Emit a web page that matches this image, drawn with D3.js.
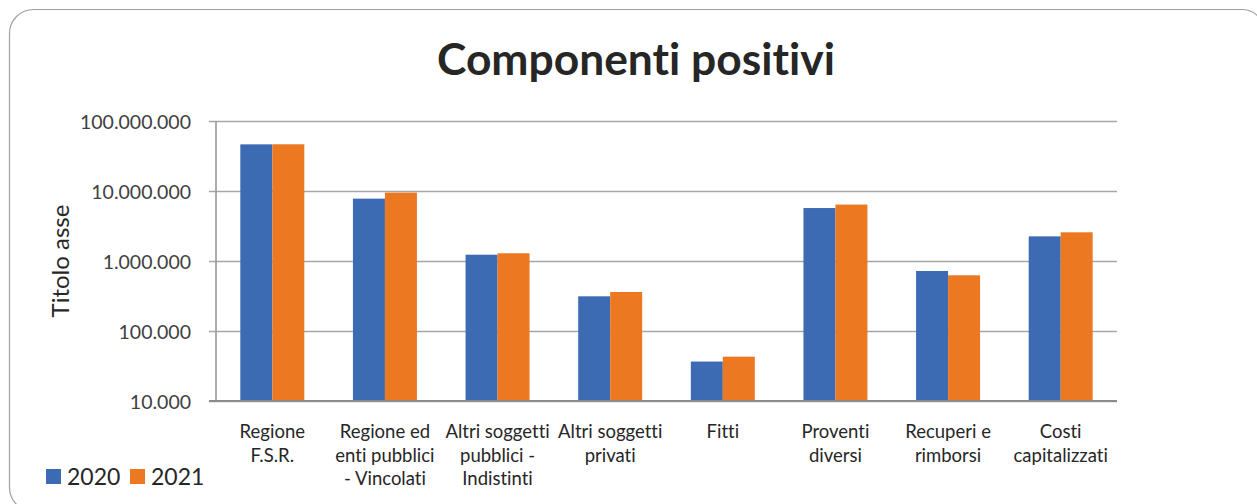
<!DOCTYPE html>
<html>
<head>
<meta charset="utf-8">
<script src="https://cdn.jsdelivr.net/npm/d3@7"></script>
<style>
  html, body { margin: 0; padding: 0; background: #ffffff; }
  svg { display: block; font-family: Lato, "Open Sans", sans-serif; }
  svg text { font-variant-ligatures: none; font-feature-settings: "liga" 0, "clig" 0; }
</style>
</head>
<body>
<svg id="chart" width="1257" height="504"></svg>
<script>
// Categories (line breaks mark how each label wraps under its group)
const categories = [
  "Regione\nF.S.R.",
  "Regione ed\nenti pubblici\n- Vincolati",
  "Altri soggetti\npubblici -\nIndistinti",
  "Altri soggetti\nprivati",
  "Fitti",
  "Proventi\ndiversi",
  "Recuperi e\nrimborsi",
  "Costi\ncapitalizzati"
];
const seriesNames = ["2020", "2021"];
const values2020 = [46400000, 7780000, 1230000, 313000, 36600, 5710000, 720000, 2250000];
const values2021 = [46500000, 9490000, 1290000, 361000, 43000, 6400000, 625000, 2570000];
const yTicks = [10000, 100000, 1000000, 10000000, 100000000];
const chartTitle = "Componenti positivi";
const axisTitle = "Titolo asse";

const colors = { "2020": "#3d6bb3", "2021": "#ec7922" };
const svg = d3.select("#chart");

// Outer frame (runs past the right edge of the page)
svg.append("rect")
  .attr("x", 9.5).attr("y", 9.5)
  .attr("width", 1256).attr("height", 502)
  .attr("rx", 24).attr("ry", 24)
  .attr("fill", "#ffffff")
  .attr("stroke", "#a0a0a0")
  .attr("stroke-width", 1.2);

const plot = { left: 216, right: 1117, top: 121, bottom: 401 };

const y = d3.scaleLog().domain([1e4, 1e8]).range([plot.bottom, plot.top]);
const x = d3.scaleBand().domain(categories).range([plot.left, plot.right]).paddingInner(0).paddingOuter(0);
const xs = d3.scaleBand().domain(seriesNames).range([0, x.bandwidth()]).paddingInner(0).paddingOuter(0.76);

const it = d3.formatLocale({ decimal: ",", thousands: ".", grouping: [3], currency: ["€", ""] });
const fmt = it.format(",d");

// Gridlines with outer tick marks
const yAxis = d3.axisLeft(y)
  .tickValues(yTicks)
  .tickFormat(fmt)
  .tickSizeInner(-(plot.right - plot.left))
  .tickSizeOuter(0)
  .tickPadding(25);
const gy = svg.append("g").attr("transform", `translate(${plot.left},0)`).call(yAxis);
gy.select(".domain").remove();
gy.selectAll(".tick line")
  .attr("x1", -7)
  .attr("stroke", "#a6a6a6")
  .attr("stroke-width", 1.4);
gy.selectAll(".tick text")
  .attr("font-size", 19.5)
  .attr("fill", "#404040")
  .attr("font-family", "Lato, sans-serif")
  .attr("dy", "0.36em");

// Bars
const data = categories.map((c, i) => ({ cat: c, vals: [
  { s: "2020", v: values2020[i] },
  { s: "2021", v: values2021[i] }
]}));

const groups = svg.append("g").selectAll("g")
  .data(data).join("g")
  .attr("transform", d => `translate(${x(d.cat)},0)`);

groups.selectAll("rect")
  .data(d => d.vals).join("rect")
  .attr("x", d => xs(d.s))
  .attr("width", xs.bandwidth())
  .attr("y", d => y(d.v))
  .attr("height", d => y(1e4) - y(d.v))
  .attr("fill", d => colors[d.s]);

// Left axis line
svg.append("line")
  .attr("x1", plot.left).attr("x2", plot.left)
  .attr("y1", plot.top).attr("y2", plot.bottom)
  .attr("stroke", "#999999").attr("stroke-width", 1.6);

// Bottom axis
const xAxis = d3.axisBottom(x).tickSize(0).tickFormat("");
const gx = svg.append("g").attr("transform", `translate(0,${plot.bottom})`).call(xAxis);
gx.select(".domain").remove();
svg.append("line")
  .attr("x1", plot.left - 7).attr("x2", plot.right)
  .attr("y1", plot.bottom).attr("y2", plot.bottom)
  .attr("stroke", "#8c8c8c").attr("stroke-width", 2);

// Category labels
const labels = svg.append("g")
  .selectAll("text")
  .data(categories).join("text")
  .attr("x", d => x(d) + x.bandwidth() / 2)
  .attr("y", 438)
  .attr("text-anchor", "middle")
  .attr("font-size", 18.5)
  .attr("fill", "#262626");
labels.selectAll("tspan")
  .data(d => d.split("\n")).join("tspan")
  .attr("x", function () { return d3.select(this.parentNode).attr("x"); })
  .attr("dy", (d, i) => i === 0 ? 0 : 23.5)
  .text(d => d);

// Title
const title = svg.append("text")
  .attr("x", 636).attr("y", 75)
  .attr("text-anchor", "middle")
  .attr("font-size", 40)
  .attr("font-weight", "bold")
  .attr("fill", "#262626")
  .text(chartTitle);
const tw = title.node().getComputedTextLength();
title.attr("font-size", 40 * 398 / tw);

// Axis title
svg.append("text")
  .attr("transform", "translate(69,261) rotate(-90)")
  .attr("text-anchor", "middle")
  .attr("font-size", 24)
  .attr("fill", "#262626")
  .text(axisTitle);

// Legend
const legend = svg.append("g");
const legendX = [46, 130];
seriesNames.forEach((s, i) => {
  legend.append("rect")
    .attr("x", legendX[i]).attr("y", 469)
    .attr("width", 15).attr("height", 15)
    .attr("fill", colors[s]);
  legend.append("text")
    .attr("x", legendX[i] + 21).attr("y", 485)
    .attr("font-size", 23)
    .attr("fill", "#262626")
    .text(s);
});
</script>
</body>
</html>
